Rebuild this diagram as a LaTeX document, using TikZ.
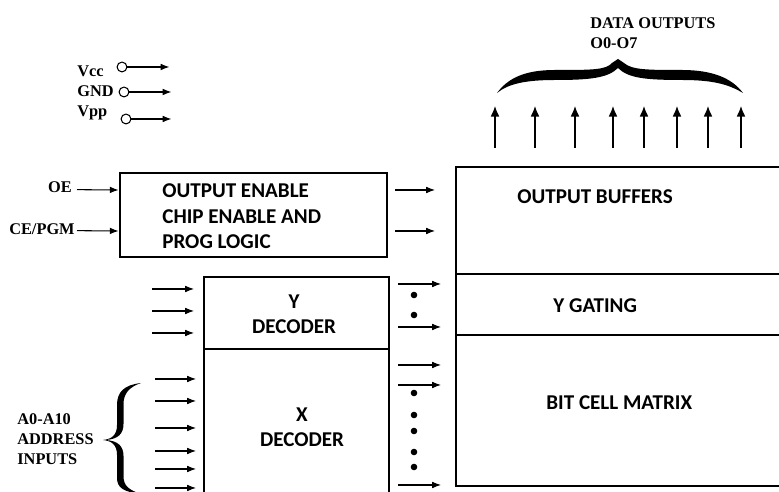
\documentclass[tikz,border=0pt]{standalone}
\usepackage{fontspec}
\setmainfont{Liberation Serif}
\newfontfamily\blkfont{Carlito}
\usetikzlibrary{arrows.meta}
\tikzset{
  box/.style={line width=1.6pt},
  arr/.style={-{Latex[length=5pt,width=3.8pt]},line width=0.6pt},
  uparr/.style={-{Latex[length=6pt,width=5pt]},line width=0.7pt},
  blk/.style={font=\blkfont\bfseries\fontsize{12}{14.5}\selectfont,inner sep=0pt},
  pinlbl/.style={font=\bfseries\fontsize{9.3}{11.2}\selectfont,inner sep=0pt},
  pinc/.style={circle,draw,line width=0.6pt,minimum size=5.6pt,inner sep=0pt},
}
\begin{document}
\begin{tikzpicture}[x=0.02cm,y=-0.02cm]
        \useasboundingbox (0,0) rectangle (779,492);
        %supply pins
        \node[pinlbl,anchor=base west] (vcc) at (77,77) {Vcc};
        \node[pinlbl,anchor=base west] (gnd) at (77,97) {GND};
        \node[pinlbl,anchor=base west] (vpp) at (77,117) {Vpp};
        \node[pinc] (vccpin) at (122,67) {};
        \node[pinc] (gndpin) at (124,92) {};
        \node[pinc] (vpppin) at (126,119) {};
        \draw[arr] (vccpin.east) -- ++(42,0);
        \draw[arr] (gndpin.east) -- ++(42,0);
        \draw[arr] (vpppin.east) -- ++(40,0);

        %control logic
        \node[draw,box,minimum width=5.34cm,minimum height=1.68cm] (ctl) at (253.5,215) {};
        \node[blk,align=left,anchor=west] (ctltxt) at (162,216.5) {OUTPUT ENABLE\\CHIP ENABLE AND\\PROG LOGIC};
        \node[pinlbl,anchor=base east] (oe) at (72,193) {OE};
        \node[pinlbl,anchor=base east] (ce) at (75,235) {CE/PGM};
        \draw[arr] (oe.east) ++(5,2) -- (ctl.west |- 0,190);
        \draw[arr] (ce.east) ++(2,1) -- (ctl.west |- 0,231);
        \foreach \y in {190,231}
            \draw[arr] (395,\y) -- (435,\y);

        %decoders
        \draw[box] (204,500) |- (389,277) -- (389,500);
        \draw[box] (204,349) -- (389,349);
        \node[blk,align=center] (ydec) at (294,314) {Y\\DECODER};
        \node[blk,align=center] (xdec) at (302,427.5) {X\\DECODER};
        \foreach \y in {289,311,333}
            \draw[arr] (152,\y) -- (194,\y);
        \foreach \y in {379,401,428,451,469,488}
            \draw[arr] (155,\y) -- (196,\y);

        %address brace
        \fill (141,383) .. controls (124,385) and (117,392) .. (117,405)
              -- (117,425) .. controls (117,435) and (112,439) .. (103,440)
              .. controls (112,441) and (117,445) .. (117,455)
              -- (117,478) .. controls (117,488) and (124,492) .. (141,494)
              .. controls (129,490) and (123.5,486) .. (123.5,476)
              -- (123.5,456) .. controls (123.5,446) and (118,441) .. (106,440)
              .. controls (118,439) and (123.5,434) .. (123.5,424)
              -- (123.5,404) .. controls (123.5,394) and (129,387) .. (141,383) -- cycle;
        \node[pinlbl,align=left,anchor=west] (addr) at (17,439) {A0-A10\\ADDRESS\\INPUTS};

        %decoder outputs
        \foreach \y in {284,327,365,385,485}
            \draw[arr] (398,\y) -- (441,\y);
        \foreach \y in {295,315,393,415,431,452,467}
            \fill (414,\y) circle (3.3);

        %memory array
        \draw[box] (785,167) -| (456,486) -- (785,486);
        \draw[box] (456,274) -- (785,274);
        \draw[box] (456,335) -- (785,335);
        \node[blk,anchor=base west] (obuf) at (517,204) {OUTPUT BUFFERS};
        \node[blk,anchor=base west] (ygate) at (553,313) {Y GATING};
        \node[blk,anchor=base west] (cells) at (546,410) {BIT CELL MATRIX};

        %data outputs
        \foreach \x in {495,535,575,613,644,677,708,741}
            \draw[uparr] (\x,148) -- (\x,106);
        \fill (497,93) .. controls (508,78) and (525,70) .. (555,70)
              .. controls (592,70) and (606,70) .. (612,63)
              -- (618,59) -- (624,63)
              .. controls (632,70) and (648,70) .. (682,70)
              .. controls (712,70) and (732,78) .. (743,93)
              .. controls (728,84) and (712,80) .. (682,80)
              .. controls (645,80) and (628,78) .. (618,68)
              .. controls (608,78) and (590,80) .. (555,80)
              .. controls (525,80) and (508,84) .. (497,93) -- cycle;
        \node[pinlbl,align=left,anchor=west] (dout) at (590,33.5) {DATA OUTPUTS\\O0-O7};
\end{tikzpicture}
\end{document}
